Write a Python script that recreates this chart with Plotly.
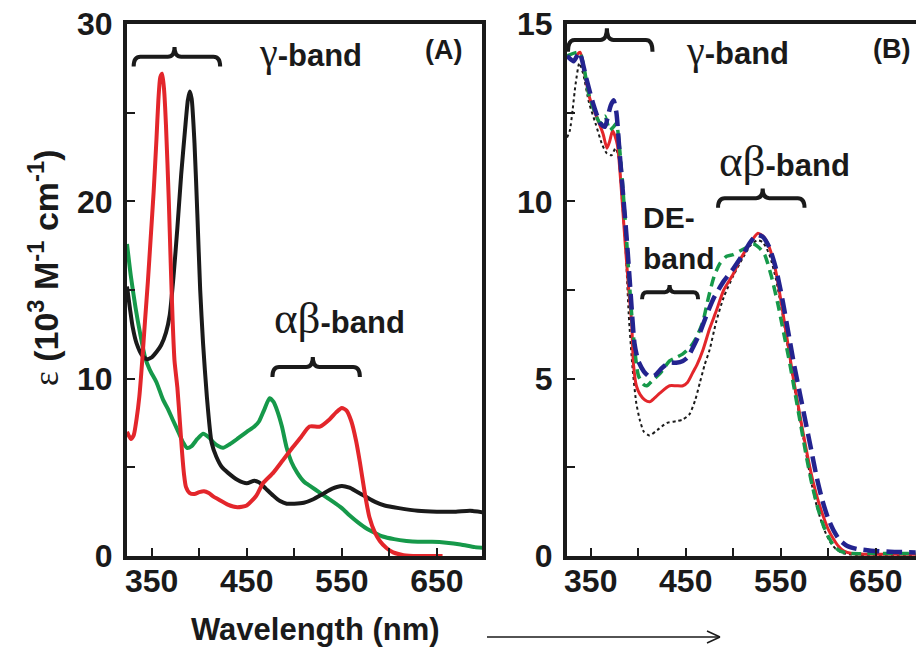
import plotly.graph_objects as go

# ---------------- data: panel A ----------------
wl_a_green = [324, 328, 333, 338, 343, 348, 355, 362, 367, 372, 378, 383, 387, 392, 398, 404, 410, 415, 420, 425,
              432, 440, 450, 458, 463, 468, 474, 478, 482, 487, 492, 497, 503, 510, 518, 526, 534, 541, 550, 558,
              567, 576, 585, 593, 605, 618, 630, 645, 660, 675, 690, 700]
eps_a_green = [17.6, 15.8, 14.0, 12.5, 11.2, 10.5, 9.8, 8.8, 8.3, 7.7, 7.0, 6.4, 6.1, 6.2, 6.6, 6.9, 6.7, 6.4, 6.2, 6.1,
               6.3, 6.6, 7.0, 7.3, 7.6, 8.2, 8.9, 8.7, 8.2, 7.3, 6.1, 5.3, 4.7, 4.2, 3.9, 3.6, 3.3, 3.05, 2.7, 2.3,
               1.9, 1.55, 1.3, 1.1, 0.95, 0.85, 0.8, 0.8, 0.75, 0.65, 0.5, 0.45]

wl_a_black = [324, 327, 330, 334, 340, 345, 350, 355, 360, 365, 369, 373, 377, 381, 385, 388, 390, 392, 395, 398,
              401, 404, 408, 413, 418, 424, 430, 440, 450, 458, 463, 470, 478, 485, 492, 500, 510, 520, 530, 540,
              550, 558, 565, 575, 585, 595, 610, 630, 650, 670, 685, 700]
eps_a_black = [15.2, 14.0, 12.9, 12.0, 11.3, 11.1, 11.2, 11.5, 11.9, 12.6, 13.6, 15.8, 18.5, 21.5, 24.0, 25.7, 26.2, 25.8, 23.3, 19.3,
               15.0, 12.0, 9.0, 6.4, 5.6, 5.0, 4.7, 4.3, 4.1, 4.25, 4.15, 3.8, 3.4, 3.1, 2.95, 2.95, 3.0, 3.2, 3.5, 3.8,
               3.95, 3.85, 3.65, 3.35, 3.05, 2.85, 2.7, 2.55, 2.5, 2.5, 2.55, 2.45]

wl_a_red = [324, 328, 331, 334, 337, 340, 343, 346, 349, 352, 355, 357, 359, 361, 363, 365, 368, 370, 372, 374,
            377, 380, 382, 384, 386, 390, 395, 400, 405, 410, 415, 420, 430, 440, 450, 460, 467, 478, 488, 498,
            507, 516, 527, 537, 544, 550, 555, 560, 565, 569, 574, 579, 585, 590, 597, 604, 615, 630, 656]
eps_a_red = [7.0, 6.6, 6.8, 7.7, 9.0, 11.0, 13.3, 15.5, 18.0, 20.5, 23.5, 25.7, 27.0, 27.2, 26.3, 24.3, 20.0, 16.5, 13.3, 11.0,
             9.5, 7.3, 5.8, 4.6, 3.9, 3.55, 3.5, 3.6, 3.65, 3.55, 3.35, 3.2, 2.9, 2.75, 2.85, 3.4, 4.1, 4.7, 5.4, 6.1,
             6.7, 7.3, 7.3, 7.7, 8.1, 8.35, 8.2, 7.6, 6.5, 5.3, 3.6, 2.2, 1.3, 0.85, 0.45, 0.2, 0.05, 0.0, 0.0]

# ---------------- data: panel B ----------------
wl_b_black = [325, 328, 331, 334, 338, 342, 348, 355, 362, 367, 372, 376, 379, 383, 387, 390, 394, 398, 402, 406,
              412, 420, 430, 440, 447, 454, 460, 465, 470, 475, 482, 490, 500, 510, 518, 525, 531, 538, 545, 552,
              558, 564, 570, 576, 582, 588, 593, 598, 603, 608, 615, 630, 692]
eps_b_black = [11.8, 12.0, 12.6, 13.3, 13.9, 13.6, 12.8, 12.2, 11.6, 11.35, 11.3, 11.5, 11.3, 10.0, 8.5, 6.8, 5.3, 4.3, 3.8, 3.5,
               3.4, 3.55, 3.75, 3.8, 3.85, 4.0, 4.4, 4.9, 5.4, 5.8, 6.6, 7.3, 7.9, 8.4, 8.75, 8.9, 8.85, 8.5, 7.8, 6.8,
               5.8, 4.8, 3.9, 3.0, 2.1, 1.4, 0.95, 0.6, 0.35, 0.2, 0.08, 0.03, 0.03]

wl_b_red = [325, 329, 332, 336, 339, 343, 349, 356, 363, 367, 370, 373, 378, 382, 386, 390, 393, 395, 398, 402,
            407, 412, 417, 423, 433, 440, 447, 452, 457, 462, 468, 475, 482, 490, 500, 507, 515, 521, 526, 532,
            538, 545, 552, 558, 563, 568, 573, 578, 584, 590, 595, 600, 605, 610, 616, 625, 640, 692]
eps_b_red = [14.1, 14.0, 13.95, 14.15, 14.2, 13.7, 12.9, 12.4, 11.9, 11.5, 11.7, 12.0, 11.6, 10.4, 8.9, 7.5, 6.6, 5.4, 4.8, 4.55,
             4.4, 4.35, 4.45, 4.6, 4.8, 4.8, 4.8, 4.9, 5.15, 5.4, 5.8, 6.4, 6.9, 7.5, 7.95, 8.35, 8.7, 8.95, 9.1, 9.0,
             8.7, 8.0, 6.9, 5.9, 5.05, 4.3, 3.55, 2.85, 2.1, 1.5, 1.1, 0.75, 0.5, 0.3, 0.15, 0.07, 0.05, 0.05]

wl_b_green = [325, 338, 349, 360, 365, 370, 374, 377, 380, 384, 388, 392, 396, 400, 405, 409, 415, 423, 433, 440,
              447, 455, 461, 468, 474, 480, 486, 493, 500, 507, 514, 521, 527, 533, 540, 547, 553, 559, 565, 571,
              577, 583, 589, 595, 601, 607, 614, 625, 650, 692]
eps_b_green = [14.1, 14.2, 12.9, 12.2, 12.4, 12.0, 12.1, 12.2, 11.6, 10.3, 8.8, 7.2, 5.9, 5.1, 4.85, 4.8, 4.95, 5.15, 5.5, 5.6,
               5.7, 5.9, 6.15, 6.6, 7.3, 7.9, 8.25, 8.45, 8.5, 8.6, 8.7, 8.8, 8.7, 8.5, 7.9, 7.1, 6.3, 5.5, 4.6, 3.7,
               2.8, 2.0, 1.35, 0.85, 0.5, 0.25, 0.12, 0.07, 0.07, 0.07]

wl_b_blue = [325, 332, 338, 345, 352, 360, 365, 368, 371, 374, 377, 380, 384, 388, 392, 396, 400, 406, 412, 418,
             425, 432, 440, 447, 452, 458, 465, 472, 480, 490, 500, 510, 518, 525, 531, 538, 545, 552, 558, 564,
             570, 576, 582, 588, 594, 600, 606, 612, 620, 630, 645, 665, 692]
eps_b_blue = [14.1, 13.95, 14.2, 13.5, 12.8, 12.2, 12.1, 12.4, 12.7, 12.85, 12.5, 11.5, 10.2, 8.9, 7.4, 6.0, 5.5, 5.2, 5.05, 5.1,
              5.3, 5.45, 5.45, 5.5, 5.6, 5.9, 6.3, 6.8, 7.3, 7.75, 8.1, 8.5, 8.85, 9.05, 9.0, 8.7, 8.1, 7.2, 6.3, 5.4,
              4.6, 3.8, 3.0, 2.2, 1.55, 1.05, 0.7, 0.45, 0.28, 0.2, 0.15, 0.12, 0.1]

# ---------------- axis tick definitions ----------------
x_tickvals = [350, 400, 450, 500, 550, 600, 650]
x_ticktext = ["350", " ", "450", " ", "550", " ", "650"]
ya_tickvals = [0, 5, 10, 15, 20, 25, 30]
ya_ticktext = ["0", " ", "10", " ", "20", " ", "30"]
yb_tickvals = [0, 2.5, 5, 7.5, 10, 12.5, 15]
yb_ticktext = ["0", " ", "5", " ", "10", " ", "15"]

# ---------------- colours ----------------
RED = "#e3262b"
GREEN = "#16994a"
BLACK = "#1a1a1a"
BLUE = "#23238f"

W, H = 916, 651


def px(x):
    return x / W


def py(y):
    return 1 - y / H


fig = go.Figure()

# Panel A
fig.add_trace(go.Scatter(x=wl_a_green, y=eps_a_green, mode="lines", line=dict(color=GREEN, width=4, shape="spline", smoothing=0.6),
                         xaxis="x", yaxis="y", showlegend=False))
fig.add_trace(go.Scatter(x=wl_a_black, y=eps_a_black, mode="lines", line=dict(color=BLACK, width=4, shape="spline", smoothing=0.6),
                         xaxis="x", yaxis="y", showlegend=False))
fig.add_trace(go.Scatter(x=wl_a_red, y=eps_a_red, mode="lines", line=dict(color=RED, width=4, shape="spline", smoothing=0.6),
                         xaxis="x", yaxis="y", showlegend=False))

# Panel B
fig.add_trace(go.Scatter(x=wl_b_black, y=eps_b_black, mode="lines",
                         line=dict(color=BLACK, width=2, dash="3px,3px", shape="spline", smoothing=0.6),
                         xaxis="x2", yaxis="y2", showlegend=False))
fig.add_trace(go.Scatter(x=wl_b_red, y=eps_b_red, mode="lines",
                         line=dict(color=RED, width=3, shape="spline", smoothing=0.6),
                         xaxis="x2", yaxis="y2", showlegend=False))
fig.add_trace(go.Scatter(x=wl_b_green, y=eps_b_green, mode="lines",
                         line=dict(color=GREEN, width=3.5, dash="10px,6px", shape="spline", smoothing=0.6),
                         xaxis="x2", yaxis="y2", showlegend=False))
fig.add_trace(go.Scatter(x=wl_b_blue, y=eps_b_blue, mode="lines",
                         line=dict(color=BLUE, width=4.5, dash="16px,7px", shape="spline", smoothing=0.6),
                         xaxis="x2", yaxis="y2", showlegend=False))

tickfont = dict(family="Liberation Sans", size=32, color=BLACK, weight="bold")
common_x = dict(showgrid=False, zeroline=False, showline=True, linecolor=BLACK, linewidth=4,
                ticks="inside", ticklen=8, tickwidth=2, tickcolor=BLACK, tickfont=tickfont,
                tickvals=x_tickvals, ticktext=x_ticktext, mirror=True, automargin=False,
                ticklabelstandoff=-6)
common_y = dict(showgrid=False, zeroline=False, showline=True, linecolor=BLACK, linewidth=4,
                ticks="inside", ticklen=8, tickwidth=2, tickcolor=BLACK, tickfont=tickfont,
                automargin=False, ticklabelstandoff=4)

fig.update_layout(
    width=W, height=H, autosize=False,
    margin=dict(l=0, r=0, t=0, b=0, autoexpand=False),
    paper_bgcolor="white", plot_bgcolor="white",
    xaxis=dict(domain=[px(127), px(482)], range=[324, 697.5], anchor="y", **common_x),
    yaxis=dict(domain=[py(556), py(24)], range=[0, 30], anchor="x", tickvals=ya_tickvals, ticktext=ya_ticktext,
               mirror=True, **common_y),
    xaxis2=dict(domain=[px(567), 1.0], range=[325, 325 + (916 - 567) / 0.95], anchor="y2", **common_x),
    yaxis2=dict(domain=[py(556), py(24)], range=[0, 15], anchor="x2", tickvals=yb_tickvals, ticktext=yb_ticktext,
                mirror=False, **common_y),
)


def brace_path(x0, x1, xm, y, h, rx):
    return (f"M{x0},{y - h} Q{x0},{y} {x0 + rx},{y} L{xm - rx},{y} Q{xm},{y} {xm},{y + h} "
            f"Q{xm},{y} {xm + rx},{y} L{x1 - rx},{y} Q{x1},{y} {x1},{y - h}")


braces = [
    ("x", "y", 331, 422, 374, 28.15, 0.55, 7),
    ("x", "y", 477, 569, 519.5, 10.66, 0.56, 7),
    ("x2", "y2", 326, 415, 367, 14.55, 0.33, 7),
    ("x2", "y2", 484, 575, 531, 10.09, 0.27, 7),
    ("x2", "y2", 404, 463, 433, 7.44, 0.2, 5),
]
shapes = []
for xr, yr, x0, x1, xm, y, h, rx in braces:
    shapes.append(dict(type="path", xref=xr, yref=yr, path=brace_path(x0, x1, xm, y, h, rx),
                       line=dict(color=BLACK, width=4)))

# arrow at bottom
shapes.append(dict(type="line", xref="paper", yref="paper", x0=px(487), x1=px(720), y0=py(637), y1=py(637),
                   line=dict(color=BLACK, width=1.5)))
shapes.append(dict(type="line", xref="paper", yref="paper", x0=px(707), x1=px(720), y0=py(631), y1=py(637),
                   line=dict(color=BLACK, width=1.5)))
shapes.append(dict(type="line", xref="paper", yref="paper", x0=px(707), x1=px(720), y0=py(643), y1=py(637),
                   line=dict(color=BLACK, width=1.5)))
fig.update_layout(shapes=shapes)

lbl_font = dict(family="Liberation Sans", size=31, color=BLACK, weight="bold")


def serif(t, size):
    return f"<span style='font-family:Liberation Serif;font-weight:normal;font-size:{size}px'>{t}</span>"


def ann(text, x, y, xanchor="center", size=31, angle=0):
    f = dict(lbl_font)
    f["size"] = size
    return dict(text=text, x=px(x), y=py(y), xref="paper", yref="paper", showarrow=False,
                xanchor=xanchor, yanchor="middle", font=f, textangle=angle)


annotations = [
    ann(serif("γ", 40) + "-band", 310, 52),
    ann("(A)", 443, 50, size=27),
    ann(serif("αβ", 45) + "-band", 339, 318),
    ann(serif("γ", 40) + "-band", 737, 51),
    ann("(B)", 891, 49, size=27),
    ann(serif("αβ", 45) + "-band", 784, 161),
    ann("DE-", 641, 218, xanchor="left", size=30),
    ann("band", 641, 258, xanchor="left", size=30),
    ann("Wavelength (nm)", 315, 629, size=31),
    ann(serif("ε", 35) + " (10<sup>3</sup> M<sup>-1</sup> cm<sup>-1</sup>)", 44, 268, size=34, angle=-90),
]
fig.update_layout(annotations=annotations)

fig.write_html("out.html", config={"displayModeBar": False},
               post_script="document.body.style.margin='0px';document.body.style.padding='0px';")
